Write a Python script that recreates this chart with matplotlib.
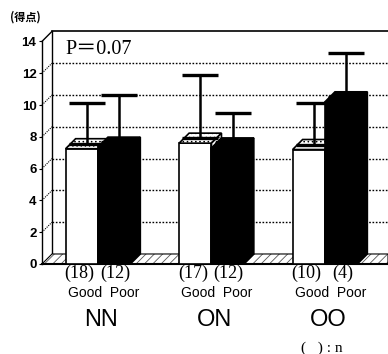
import matplotlib
matplotlib.use("Agg")
import matplotlib.pyplot as plt
from matplotlib.patches import Polygon, Rectangle

# データ
groups = ["NN", "ON", "OO"]
good_mean = [7.25, 7.6, 7.2]
poor_mean = [7.35, 7.3, 10.2]
good_top = [10.1, 11.9, 10.1]   # 誤差棒の上端
poor_top = [10.6, 9.5, 13.3]
good_n = [18, 17, 10]
poor_n = [12, 12, 4]
yticks = [0, 2, 4, 6, 8, 10, 12, 14]

plt.rcParams['font.family'] = ['Liberation Sans', 'DejaVu Sans']
plt.rcParams['hatch.linewidth'] = 0.6

fig = plt.figure(figsize=(3.88, 3.54), dpi=100)
ax = fig.add_axes([42/388, 90/354, 346/388, 222.6/354])

xmin, xmax = -0.493, 2.555
w = 0.285          # 棒の幅
dx, dy = 0.088, 0.63   # 奥行き
ax.set_xlim(xmin, xmax)
ax.set_ylim(0, 14)
for s in ax.spines.values():
    s.set_visible(False)
ax.set_xticks([])
ax.set_yticks(yticks)
ax.set_yticklabels([str(v) for v in yticks], fontsize=9.5, fontweight='bold')
ax.tick_params(axis='y', length=2, width=0.8, pad=2)

# 壁・床
ax.plot([xmin, xmin], [0, 14], color='k', lw=1.0, zorder=1, clip_on=False)
ax.plot([xmin + dx, xmin + dx], [dy, 14 + dy], color='k', lw=1.0, zorder=1, clip_on=False)
ax.plot([xmin + dx, xmax], [14 + dy, 14 + dy], color='k', lw=1.2, zorder=1, clip_on=False)
ax.plot([xmin, xmin + dx], [14, 14 + dy], color='k', lw=1.0, zorder=1, clip_on=False)
for v in yticks[1:-1]:
    ax.plot([xmin + dx, xmax], [v + dy, v + dy], color='k', lw=1.0,
            linestyle=(0, (1.2, 1.2)), zorder=1, clip_on=False)
    ax.plot([xmin, xmin + dx], [v, v + dy], color='k', lw=0.8,
            linestyle=(0, (1, 1)), zorder=1, clip_on=False)
floor_pts = [(xmin, 0), (xmax, 0), (xmax, dy), (xmin + dx, dy)]
ax.add_patch(Polygon(floor_pts, closed=True, facecolor='white', edgecolor='#555555',
                     hatch='////', lw=0, zorder=1.5, clip_on=False))
ax.add_patch(Polygon(floor_pts, closed=True, facecolor='none', edgecolor='k',
                     lw=0.8, zorder=1.55, clip_on=False))
ax.plot([xmin, xmax], [0, 0], color='k', lw=1.5, zorder=1.6, clip_on=False)


def bar3d(x0, h, color, z):
    hatch = '....' if color == 'white' else None
    ax.add_patch(Rectangle((x0, 0), w, h, facecolor=color, edgecolor='k', lw=1.2, zorder=z))
    ax.add_patch(Polygon([(x0, h), (x0 + w, h), (x0 + w + dx, h + dy), (x0 + dx, h + dy)],
                         closed=True, facecolor=color, edgecolor='k', hatch=hatch,
                         lw=1.2, zorder=z))
    ax.add_patch(Polygon([(x0 + w, 0), (x0 + w + dx, dy), (x0 + w + dx, h + dy), (x0 + w, h)],
                         closed=True, facecolor=color, edgecolor='k', hatch=hatch,
                         lw=1.2, zorder=z))


for i in range(len(groups)):
    bar3d(i - w, good_mean[i], 'white', 3)
    bar3d(i, poor_mean[i], 'black', 4)
    for x0, m, t in [(i - w, good_mean[i], good_top[i]), (i, poor_mean[i], poor_top[i])]:
        xc = x0 + w / 2 + dx / 2
        ax.errorbar([xc], [m + dy / 2], yerr=[[0], [t - m - dy / 2]], fmt='none',
                    ecolor='k', elinewidth=1.8, capsize=13, capthick=2.4, zorder=5)
    ax.text(i - w / 2 - 0.02, -0.57, "(%d)" % good_n[i], ha='center', va='center',
            fontsize=13, family='Liberation Serif', clip_on=False)
    ax.text(i + w / 2 + 0.01, -0.57, "(%d)" % poor_n[i], ha='center', va='center',
            fontsize=13, family='Liberation Serif', clip_on=False)
    ax.text(i + 0.05, -1.82, "Good  Poor", ha='center', va='center', fontsize=10,
            clip_on=False)
    ax.text(i + 0.03, -3.5, groups[i], ha='center', va='center', fontsize=17,
            clip_on=False)

fig.text(65/388, 1 - 49/354, "P＝0.07", ha='left', va='center', fontsize=14.5,
         family=['Liberation Serif', 'Noto Sans CJK JP'])
fig.text(25/388, 1 - 17/354, "(得点)", ha='center', va='center', fontsize=8,
         fontweight='bold', family=['Noto Sans CJK JP', 'DejaVu Sans'])
fig.text(322/388, 1 - 348/354, "(   ) : n", ha='center', va='center', fontsize=11,
         family=['Liberation Serif', 'DejaVu Serif'])

fig.savefig("out.png", dpi=100)
